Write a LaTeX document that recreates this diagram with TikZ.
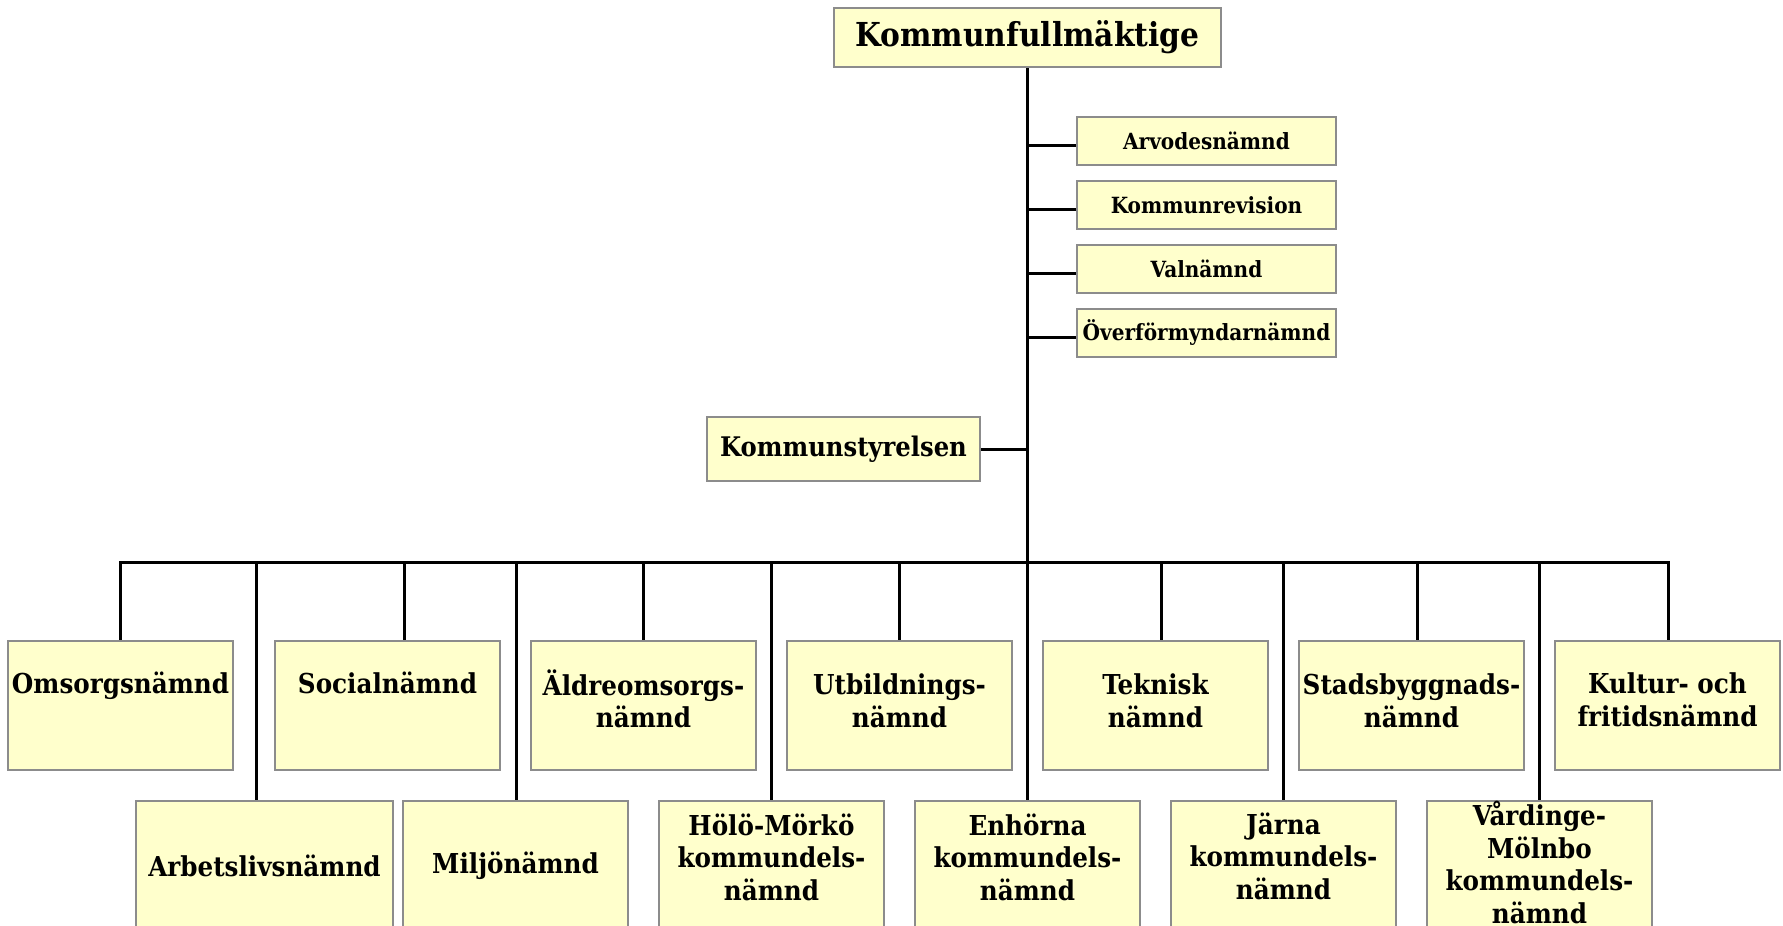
\documentclass[tikz,border=0pt]{standalone}
\usepackage{fontspec}
\setmainfont{DejaVu Serif Condensed}
\definecolor{boxfill}{RGB}{255,255,204}
\definecolor{boxline}{RGB}{140,140,140}
\begin{document}
\begin{tikzpicture}[x=1pt,y=-1pt,
  orgbox/.style={draw=boxline, line width=2pt, fill=boxfill, inner sep=0pt, align=center},
  bigbox/.style={orgbox, minimum width=225pt, minimum height=129pt, font=\fontsize{27.4}{32.5}\selectfont\bfseries},
  smallbox/.style={orgbox, minimum width=259pt, minimum height=48pt, font=\fontsize{22.3}{26}\selectfont\bfseries},
  conn/.style={line width=3pt, black}]
\useasboundingbox (0,0) rectangle (1783,926);
\clip (0,0) rectangle (1783,926);
% top
\node[orgbox, minimum width=387pt, minimum height=59pt, font=\fontsize{33}{38}\selectfont\bfseries] (kf) at (1027.5,37.5) {Kommunfullmäktige};
\node[smallbox] (arv) at (1206.5,141) {Arvodesnämnd};
\node[smallbox] (rev) at (1206.5,205) {Kommunrevision};
\node[smallbox] (val) at (1206.5,269) {Valnämnd};
\node[smallbox] (ovf) at (1206.5,333) {Överförmyndarnämnd};
\node[orgbox, minimum width=273pt, minimum height=64pt, font=\fontsize{27}{31}\selectfont\bfseries] (ks) at (843.5,449) {Kommunstyrelsen};
% top row
\node[bigbox] (oms) at (120.5,705.5) {Omsorgsnämnd\\[14pt]\mbox{}};
\node[bigbox] (soc) at (387.5,705.5) {Socialnämnd\\[14pt]\mbox{}};
\node[bigbox] (ald) at (643.5,705.5) {Äldreomsorgs-\\nämnd\\[-18.5pt]\mbox{}};
\node[bigbox] (utb) at (899.5,705.5) {Utbildnings-\\nämnd\\[-22.5pt]\mbox{}};
\node[bigbox] (tek) at (1155.5,705.5) {Teknisk\\nämnd\\[-22.5pt]\mbox{}};
\node[bigbox] (sta) at (1411.5,705.5) {Stadsbyggnads-\\nämnd\\[-22.5pt]\mbox{}};
\node[bigbox] (kul) at (1667.5,705.5) {Kultur- och\\fritidsnämnd\\[-20.5pt]\mbox{}};
% bottom row
\node[bigbox, minimum width=257pt] (arb) at (264.5,865.5) {Arbetslivsnämnd};
\node[bigbox] (mil) at (515.5,865.5) {Miljönämnd};
\node[bigbox] (hol) at (771.5,865.5) {Hölö-Mörkö\\kommundels-\\nämnd\\[-15.5pt]\mbox{}};
\node[bigbox] (enh) at (1027.5,865.5) {Enhörna\\kommundels-\\nämnd\\[-15.5pt]\mbox{}};
\node[bigbox] (jar) at (1283.5,865.5) {Järna\\kommundels-\\nämnd\\[-13.5pt]\mbox{}};
\node[bigbox] (var) at (1539.5,865.5) {Vårdinge-\\Mölnbo\\kommundels-\\nämnd\\[-26.5pt]\mbox{}};
% connectors
\draw[conn] (kf.south) -- (enh.north);
\foreach \b in {arv,rev,val,ovf}{
  \coordinate (s\b) at ([yshift=-4pt]\b.west);
  \draw[conn] (s\b) -- (s\b -| kf.south);
}
\draw[conn] (ks.east) -- (ks.east -| kf.south);
\coordinate (busL) at (120.5,562);
\coordinate (busR) at (1668,562);
\draw[conn, line cap=rect] (busL) -- (busR);
\foreach \nm/\xx in {oms/120.5,arb/256,soc/404,mil/516,ald/643,hol/771.5,utb/899,tek/1161,jar/1283.5,sta/1417.5,var/1539.5,kul/1668}{
  \coordinate (d\nm) at (\xx,562);
  \draw[conn] (d\nm) -- (d\nm |- \nm.north);
}
\end{tikzpicture}
\end{document}
